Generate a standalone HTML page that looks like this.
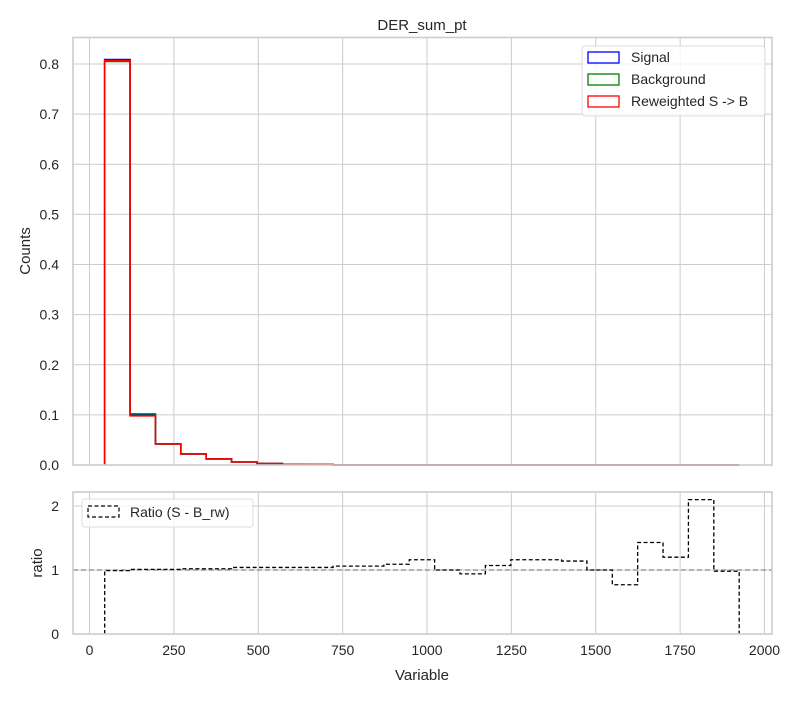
<!DOCTYPE html>
<html><head><meta charset="utf-8"><style>
body{margin:0;background:#fff;font-family:"Liberation Sans",Arial,sans-serif}
svg text{font-family:"Liberation Sans",Arial,sans-serif;fill:#262626}
</style></head><body>
<svg id="c" width="800" height="700" xmlns="http://www.w3.org/2000/svg"></svg>
<script>
const binStart = 45;
const binWidth = 75.2;
const signalVals = [0.809,0.100,0.042,0.022,0.012,0.006,0.003,0.0015,0.0008,0,0,0,0,0,0,0,0,0,0,0,0,0,0,0,0];
const backgroundVals = [0.805,0.102,0.042,0.022,0.012,0.006,0.003,0.0015,0.0008,0,0,0,0,0,0,0,0,0,0,0,0,0,0,0,0];
const reweightedVals = [0.807,0.098,0.042,0.022,0.012,0.006,0.003,0.0015,0.0008,0,0,0,0,0,0,0,0,0,0,0,0,0,0,0,0];
const ratioVals = [0.99,1.01,1.01,1.02,1.02,1.04,1.04,1.04,1.04,1.06,1.06,1.09,1.16,1.0,0.94,1.07,1.16,1.16,1.14,1.0,0.77,1.43,1.2,2.1,0.98];
const xTicks = [0,250,500,750,1000,1250,1500,1750,2000];
const yTicksTop = [0,0.1,0.2,0.3,0.4,0.5,0.6,0.7,0.8];
const yTicksBot = [0,1,2];

const L=73,R=772,T1=37.5,B1=465,T2=492,B2=634;
const X=v=>89.5+v*0.3375;
const Y1=v=>465-v*501.25;
const Y2=v=>634-v*64;
const svg=document.getElementById('c');
const NS='http://www.w3.org/2000/svg';
function mk(tag,attrs,parent){const e=document.createElementNS(NS,tag);for(const k in attrs)e.setAttribute(k,attrs[k]);(parent||svg).appendChild(e);return e;}

function axes(T,B,yt,Y,fmt,name){
  const g=mk('g',{});
  
  
  mk('rect',{x:L,y:T,width:R-L,height:B-T,fill:'#fff'},g);
  xTicks.forEach(t=>{const l=mk('line',{x1:X(t),x2:X(t),y1:T,y2:B,stroke:'#cccccc','stroke-width':1},g);
    });
  yt.forEach(t=>{const l=mk('line',{x1:L,x2:R,y1:Y(t),y2:Y(t),stroke:'#cccccc','stroke-width':1},g);
    
    const tx=mk('text',{x:L-14,y:Y(t)+5,'text-anchor':'end','font-size':14},g);tx.textContent=fmt(t);
    });
  return g;
}
function frame(T,B){const f=mk('rect',{x:L,y:T,width:R-L,height:B-T,fill:'none',stroke:'#cccccc','stroke-width':1.6});
  }

axes(T1,B1,yTicksTop,Y1,t=>t.toFixed(1),'top-axes');
axes(T2,B2,yTicksBot,Y2,t=>String(t),'ratio-axes');

function stepPath(vals,Y){
  let d='M'+X(binStart)+','+Y(0);
  vals.forEach((v,i)=>{const x0=X(binStart+i*binWidth),x1=X(binStart+(i+1)*binWidth);d+=' L'+x0+','+Y(v)+' L'+x1+','+Y(v);});
  d+=' L'+X(binStart+vals.length*binWidth)+','+Y(0);
  return d;
}
const s1=mk('path',{d:stepPath(signalVals,Y1),fill:'none',stroke:'#0000ff','stroke-width':1.6});

const s2=mk('path',{d:stepPath(backgroundVals,Y1),fill:'none',stroke:'#008000','stroke-width':1.6});

const s3=mk('path',{d:stepPath(reweightedVals,Y1),fill:'none',stroke:'#ff0000','stroke-width':1.6});


const ref=mk('line',{x1:L,x2:R,y1:Y2(1),y2:Y2(1),stroke:'#888','stroke-width':1.2,'stroke-dasharray':'5,3'});

const rp=mk('path',{d:stepPath(ratioVals,Y2),fill:'none',stroke:'#000','stroke-width':1.3,'stroke-dasharray':'4,2.5'});


frame(T1,B1);frame(T2,B2);

xTicks.forEach(t=>{const tx=mk('text',{x:X(t),y:B2+21,'text-anchor':'middle','font-size':14});tx.textContent=t;
  });

function txt(s,a,name){const t=mk('text',a);t.textContent=s;return t;}
txt('DER_sum_pt',{x:422,y:30,'text-anchor':'middle','font-size':15},'chart-title');
txt('Variable',{x:422,y:680,'text-anchor':'middle','font-size':15},'x-axis-title');
txt('Counts',{x:30,y:251,'text-anchor':'middle','font-size':15,transform:'rotate(-90 30 251)'},'y-axis-title');
txt('ratio',{x:42,y:563,'text-anchor':'middle','font-size':15,transform:'rotate(-90 42 563)'},'ratio-axis-title');

const lg=mk('g',{});

mk('rect',{x:582,y:46,width:183,height:70,rx:3,fill:'#fff','fill-opacity':0.8,stroke:'#dddddd'},lg);
[['Signal','#0000ff'],['Background','#008000'],['Reweighted S -> B','#ff0000']].forEach((e,i)=>{
  const y=52+i*22;
  const it=mk('g',{},lg);
  
  mk('rect',{x:588,y:y,width:31,height:11,fill:'none',stroke:e[1],'stroke-width':1.3},it);
  const t=mk('text',{x:631,y:y+10,'font-size':14},it);t.textContent=e[0];
});
const lg2=mk('g',{});

mk('rect',{x:82,y:499,width:171,height:28,rx:3,fill:'#fff','fill-opacity':0.8,stroke:'#dddddd'},lg2);
mk('rect',{x:88,y:506,width:31,height:11,fill:'none',stroke:'#000','stroke-width':1.2,'stroke-dasharray':'4,2.5'},lg2);
const t2=mk('text',{x:130,y:517,'font-size':14},lg2);t2.textContent='Ratio (S - B_rw)';
</script>
</body></html>
